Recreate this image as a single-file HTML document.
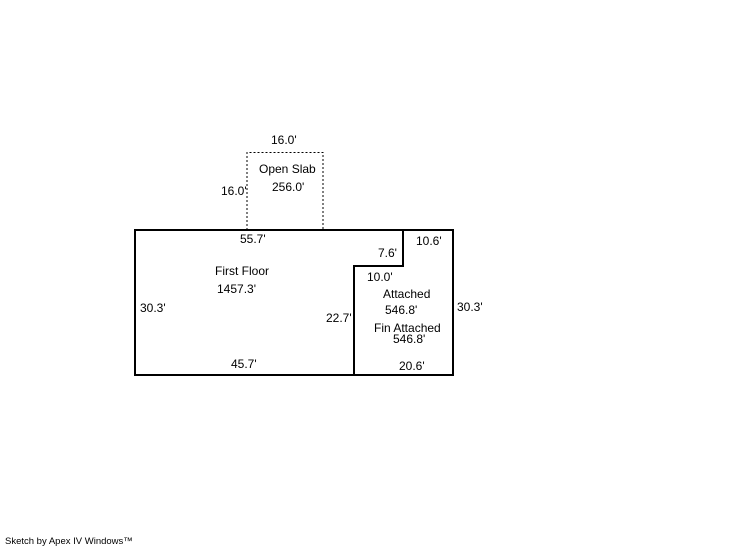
<!DOCTYPE html>
<html><head><style>body{margin:0;background:#fff}svg{display:block}text{font-family:"Liberation Sans",sans-serif;font-size:12px;fill:#000}</style></head>
<body>
<svg width="746" height="547" xmlns="http://www.w3.org/2000/svg">
<path d="M247 230 V152.5 H323 V230" fill="none" stroke="#000" stroke-width="1" stroke-dasharray="2,2"/>
<path d="M135 230 H453 V375 H135 Z" fill="none" stroke="#000" stroke-width="2"/>
<path d="M403 230 V266 H354 V375" fill="none" stroke="#000" stroke-width="2"/>
<text x="271" y="144">16.0'</text>
<text x="259" y="173">Open Slab</text>
<text x="272" y="191">256.0'</text>
<text x="221" y="195">16.0'</text>
<text x="240" y="243">55.7'</text>
<text x="416" y="245">10.6'</text>
<text x="378" y="257">7.6'</text>
<text x="215" y="275">First Floor</text>
<text x="217" y="293">1457.3'</text>
<text x="367" y="281">10.0'</text>
<text x="383" y="298">Attached</text>
<text x="385" y="314">546.8'</text>
<text x="140" y="312">30.3'</text>
<text x="457" y="311">30.3'</text>
<text x="326" y="322">22.7'</text>
<text x="374" y="332">Fin Attached</text>
<text x="393" y="343">546.8'</text>
<text x="231" y="368">45.7'</text>
<text x="399" y="370">20.6'</text>
<text x="5" y="544" style="font-size:9.5px">Sketch by Apex IV Windows™</text>
</svg>
</body></html>
